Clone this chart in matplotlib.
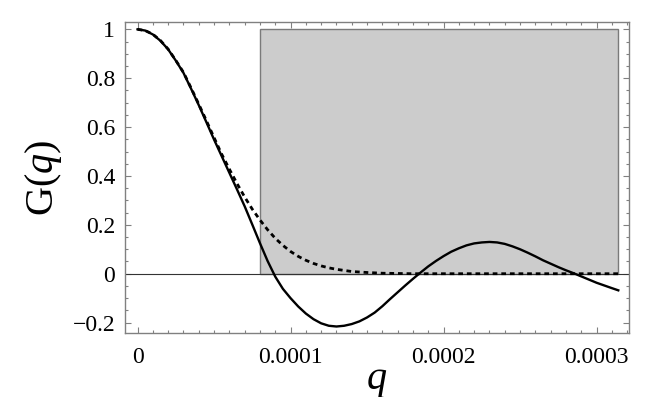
import matplotlib
matplotlib.use('Agg')
import matplotlib.pyplot as plt
from matplotlib.patches import Rectangle
from matplotlib.ticker import MultipleLocator
import numpy as np

# q values are given in units of 1e-4
Q_UNIT = 1e-4

q_solid = [0.00, 0.05, 0.10, 0.15, 0.20, 0.25, 0.30, 0.35, 0.40, 0.45, 0.50,
           0.55, 0.60, 0.65, 0.70, 0.75, 0.80, 0.85, 0.90, 0.95, 1.00, 1.05,
           1.10, 1.15, 1.20, 1.25, 1.30, 1.35, 1.40, 1.45, 1.50, 1.55, 1.60,
           1.65, 1.70, 1.75, 1.80, 1.85, 1.90, 1.95, 2.00, 2.05, 2.10, 2.15,
           2.20, 2.25, 2.30, 2.35, 2.40, 2.45, 2.50, 2.55, 2.60, 2.65, 2.70,
           2.75, 2.80, 2.85, 2.90, 2.95, 3.00, 3.05, 3.10, 3.142]
g_solid = [1.000, 0.995, 0.979, 0.953, 0.918, 0.872, 0.822, 0.757, 0.690, 0.620,
           0.549, 0.481, 0.413, 0.345, 0.276, 0.201, 0.125, 0.052, -0.012, -0.062,
           -0.100, -0.134, -0.163, -0.186, -0.203, -0.213, -0.216, -0.213, -0.206,
           -0.195, -0.179, -0.159, -0.133, -0.104, -0.076, -0.048, -0.021, 0.005,
           0.030, 0.052, 0.072, 0.090, 0.104, 0.116, 0.124, 0.128, 0.130, 0.128,
           0.122, 0.112, 0.100, 0.086, 0.071, 0.055, 0.041, 0.027, 0.014, 0.002,
           -0.011, -0.024, -0.037, -0.048, -0.059, -0.068]

q_dashed = [0.00, 0.05, 0.10, 0.15, 0.20, 0.25, 0.30, 0.35, 0.40, 0.45, 0.50,
            0.55, 0.60, 0.65, 0.70, 0.75, 0.80, 0.85, 0.90, 0.95, 1.00, 1.05,
            1.10, 1.15, 1.20, 1.25, 1.30, 1.40, 1.50, 1.60, 1.70, 1.80, 2.00,
            2.50, 3.00, 3.142]
g_dashed = [1.000, 0.995, 0.980, 0.954, 0.919, 0.873, 0.824, 0.760, 0.694, 0.626,
            0.557, 0.489, 0.428, 0.369, 0.314, 0.264, 0.220, 0.180, 0.145, 0.116,
            0.091, 0.071, 0.055, 0.042, 0.032, 0.024, 0.018, 0.009, 0.005, 0.002,
            0.001, 0.000, 0.000, 0.000, 0.000, 0.000]

# shaded band
band_q = [0.80, 3.142]
band_g = [0.0, 1.0]

x_ticks = [0.0, 1.0, 2.0, 3.0]
x_tick_labels = ['0', '0.0001', '0.0002', '0.0003']
y_ticks = [-0.2, 0.0, 0.2, 0.4, 0.6, 0.8, 1.0]
y_tick_labels = ['\u22120.2', '0', '0.2', '0.4', '0.6', '0.8', '1']

plt.rcParams['lines.scale_dashes'] = False
plt.rcParams['mathtext.fontset'] = 'custom'
plt.rcParams['mathtext.rm'] = 'Liberation Serif'
plt.rcParams['mathtext.it'] = 'Liberation Serif:italic'

serif = 'Liberation Serif'
frame_grey = '#808080'

fig = plt.figure(figsize=(6.63, 3.97), dpi=100)
ax = fig.add_axes([125 / 663, 1 - 333 / 397, 504 / 663, 311 / 397])

qs = np.array(q_solid) * Q_UNIT
qd = np.array(q_dashed) * Q_UNIT

ax.add_patch(Rectangle((band_q[0] * Q_UNIT, band_g[0]),
                       (band_q[1] - band_q[0]) * Q_UNIT, band_g[1] - band_g[0],
                       facecolor='#cccccc', edgecolor='#7a7a7a', linewidth=1.0,
                       zorder=1))
ax.axhline(0, color='#333333', linewidth=0.8, zorder=2)

ax.plot(qd, g_dashed, color='black', linewidth=2.0,
        linestyle=(0, (3.4, 2.8)), zorder=3)
ax.plot(qs, g_solid, color='black', linewidth=1.7, zorder=4,
        solid_joinstyle='round')

ax.set_xlim(-0.082 * Q_UNIT, 3.212 * Q_UNIT)
ax.set_ylim(-0.2426, 1.030)

ax.set_xticks(np.array(x_ticks) * Q_UNIT)
ax.set_xticklabels(x_tick_labels, fontsize=17, family=serif)
ax.set_yticks(y_ticks)
ax.set_yticklabels(y_tick_labels, fontsize=17, family=serif)
ax.xaxis.set_minor_locator(MultipleLocator(0.1 * Q_UNIT))
ax.yaxis.set_minor_locator(MultipleLocator(0.05))

ax.tick_params(which='both', direction='in', top=True, right=True,
               color=frame_grey, width=0.8)
ax.tick_params(which='major', length=4.0)
ax.tick_params(which='minor', length=2.0)
ax.tick_params(axis='x', which='major', pad=10)
ax.tick_params(axis='y', which='major', pad=7)

for side in ax.spines.values():
    side.set_color(frame_grey)
    side.set_linewidth(1.0)

ax.set_xlabel('q', fontsize=29, family=serif, style='italic', labelpad=-5)
ax.set_ylabel(r'$\mathrm{G}(q)$', fontsize=29, labelpad=6)

plt.savefig('out.png', dpi=100)
plt.close(fig)
